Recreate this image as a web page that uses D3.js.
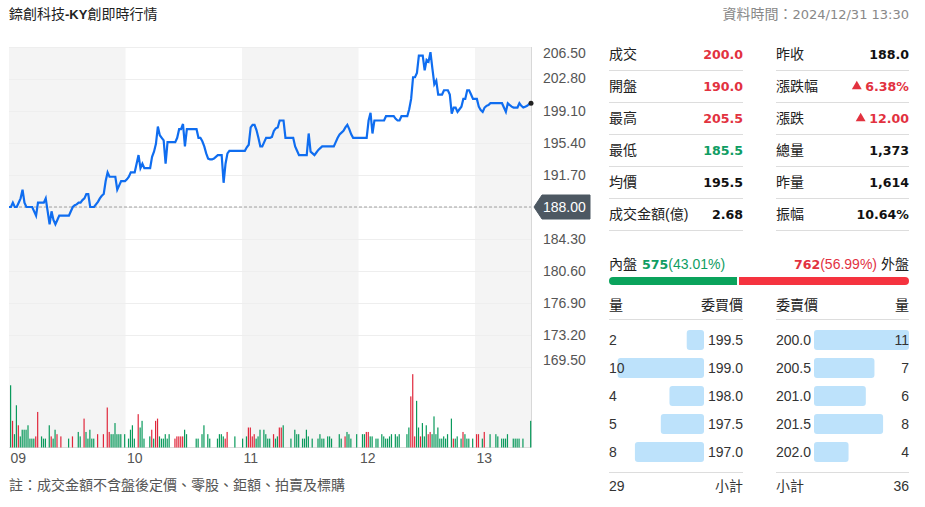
<!DOCTYPE html>
<html>
<head>
<meta charset="utf-8">
<script src="https://cdnjs.cloudflare.com/ajax/libs/d3/7.8.5/d3.min.js"></script>
<style>
html, body { margin: 0; padding: 0; background: #fff; }
svg text { font-family: "Liberation Sans", "Noto Sans CJK TC", sans-serif; }
svg text .heavy, svg text.heavy { font-family: "DejaVu Sans", sans-serif; font-weight: 700; font-size: 12.6px; }
</style>
</head>
<body>
<svg id="chart" width="925" height="507"></svg>
<script>
// one price per minute from 09:00 to 13:30
var prices = [
  188,188,188.5,188,188,188.5,189,190,188.5,188,
  188,188,188,187.5,187,188.5,188.5,188.5,188.5,189,
  187.5,186,187.5,186.5,186,186.5,187,187,187,187,
  187,187,187.5,188,188.2,188.3,188.5,188.5,188.8,189,
  189.5,189.5,188,188,188,188.3,188.6,189,189.3,189.5,
  191,192,191.5,191.5,191.5,191.5,190,190.5,191,191,
  191,191.2,191.5,192,192,192,193,194,192.5,193,
  192.5,192.5,192.5,192.5,193.8,194.4,195.3,197.3,196.3,196,
  195.7,193,195.5,195.5,195.5,195.5,195.5,196,197,197,
  197.6,195,197,197,197,197,197,197,196,196,
  195.6,195,194.2,193.6,193.5,193.5,193.6,193.8,194,194,
  194,190.8,193,194.2,194.5,194.5,194.5,194.5,194.5,194.5,
  194.5,194.5,194.5,194.9,195.2,197.2,197.5,197.5,196.9,196,
  195,195,195.5,196,196,196,196.1,196.8,197.1,197.2,
  198,198,198,196,196,196,196,196,195,194.5,
  194,194,194,194,194,196.5,194.4,194.2,194,194.3,
  194.6,194.8,195,195,195,195,195,195,195,195.5,
  196,196.4,196.6,196.8,197.2,197.5,197,196.4,196,196,
  196,196,196,196,196,196,198,198.9,196.5,198,
  198,198,198,198,198,198.5,198.5,198.5,198.5,198.5,
  198.2,198,198,198.5,198.5,198.5,198.5,199.3,200.5,203,
  203,203.5,205.5,205.5,205.5,203.8,205,204.8,205.9,204,
  202.2,202.6,201,201,201,201.5,201.5,201.5,201,198.8,
  199.5,199.5,199,199.3,199.6,200.5,200.5,201.5,201.5,201,
  200.5,200.5,200.5,199.6,199.2,199,199.5,199.7,199.8,200,
  200,200,200,200,200,200,199.5,199,200,199.8,
  199.6,199.5,199.5,199.5,200,199.7,199.5,199.6,199.7,199.9,200
];

// lots per minute, first entry is minute 1
var volumes = [
  28,12,6,19,10,5,8,8,8,10,
  4,4,4,5,16,0,5,4,4,0,
  10,5,4,8,6,0,5,0,0,0,
  4,0,5,0,0,7,5,0,13,7,
  4,8,4,4,0,6,0,0,6,0,
  18,7,6,6,11,6,6,6,0,6,
  0,4,8,10,4,0,15,9,12,4,
  0,0,5,8,4,12,13,5,4,4,
  6,4,6,0,0,4,5,5,5,5,
  8,6,0,0,0,0,4,4,0,6,
  10,0,6,4,0,0,0,4,6,6,
  5,4,7,0,0,0,5,0,0,0,
  4,0,5,9,9,5,6,4,5,8,
  0,8,6,4,4,0,6,4,5,9,
  9,10,0,0,0,4,0,8,6,6,
  0,4,4,8,5,0,4,0,0,4,
  6,4,4,0,5,5,4,0,0,0,
  6,4,0,5,7,6,4,0,0,6,
  0,0,6,6,7,7,5,5,0,4,
  4,0,6,5,4,4,5,6,0,6,
  5,6,0,0,0,6,9,23,33,5,
  21,9,5,11,5,10,6,7,6,14,
  6,9,4,4,5,4,6,0,13,4,
  4,5,0,4,7,6,4,4,0,4,
  0,6,6,0,4,7,0,0,6,0,
  0,6,5,0,4,4,4,6,0,0,
  4,4,4,4,0,4,0,0,0,12
];
var redMinutes = [2,5,14,15,22,25,27,33,39,46,49,51,52,67,74,76,77,86,87,88,89,90,
  112,113,124,125,126,127,137,140,141,174,185,186,208,209,210,213,217,218,230,235,242,243,246];

var prevClose = 188;
var priceTicks = [206.5,202.8,199.1,195.4,191.7,188,184.3,180.6,176.9,173.2,169.5];
var hourTicks = [0,60,120,180,240];
var hourLabels = ["09","10","11","12","13"];

var statLabelsL = ["成交","開盤","最高","最低","均價","成交金額(億)"];
var statValuesL = ["200.0","190.0","205.5","185.5","195.5","2.68"];
var statColorsL = ["r","r","r","g","k","k"];
var statLabelsR = ["昨收","漲跌幅","漲跌","總量","昨量","振幅"];
var statValuesR = ["188.0","6.38%","12.00","1,373","1,614","10.64%"];
var statColorsR = ["k","r","r","k","k","k"];
var statArrowsR = [false,true,true,false,false,false];

var bidQty = [2,10,4,5,8];
var bidPrice = ["199.5","199.0","198.0","197.5","197.0"];
var askQty = [11,7,6,8,4];
var askPrice = ["200.0","200.5","201.0","201.5","202.0"];
var innerShare = [575,762];

var RED = "#e2323f", GREEN = "#0f9d63", DARK = "#222";
var colorOf = {r: RED, g: GREEN, k: "#111"};

var svg = d3.select("#chart");

var L = 9, R = 531, T = 47, PB = 367, VB = 447.5;
var xScale = d3.scaleLinear().domain([0,270]).range([L,R]);
var hourScale = d3.scaleLinear().domain([0,240]).range([L,475]);
var yScale = d3.scaleLinear().domain([169.5,206.5]).range([PB,T]);
var vScale = d3.scaleLinear().domain([0,36]).range([VB,VB-80]);

function label(x, y, str, o) {
  o = o || {};
  return svg.append("text").attr("x",x).attr("y",y).attr("dy","0.36em")
    .attr("text-anchor",o.anchor || "start")
    .attr("font-size",o.size || 14)
    .attr("fill",o.color || DARK)
    .classed("heavy",!!o.bold)
    .text(str);
}

// alternating hour bands
svg.append("g").selectAll("rect").data([0,120,240]).enter().append("rect")
  .attr("x",function(d){ return hourScale(d); })
  .attr("y",T)
  .attr("width",function(d){ return Math.min(hourScale(d+60),R) - hourScale(d); })
  .attr("height",VB-T)
  .attr("fill","#f4f4f4");

// grid
svg.append("g").selectAll("line").data(priceTicks).enter().append("line")
  .attr("x1",L).attr("x2",R)
  .attr("y1",function(d){ return Math.round(yScale(d))+0.5; })
  .attr("y2",function(d){ return Math.round(yScale(d))+0.5; })
  .attr("stroke","#eeeeee");
svg.append("line").attr("x1",R+0.5).attr("x2",R+0.5).attr("y1",T).attr("y2",VB).attr("stroke","#d8d8d8");
svg.append("line").attr("x1",L).attr("x2",R).attr("y1",VB).attr("y2",VB).attr("stroke","#dcdcdc");

// volume
svg.append("g").selectAll("rect").data(volumes).enter().append("rect")
  .attr("x",function(d,i){ return xScale(i+1)-0.93; })
  .attr("y",function(d){ return vScale(d); })
  .attr("width",1.2)
  .attr("height",function(d){ return VB - vScale(d); })
  .attr("fill",function(d,i){ return redMinutes.indexOf(i+1) >= 0 ? "#e0283c" : "#0a9a5c"; });

// previous close
svg.append("line").attr("x1",L).attr("x2",R)
  .attr("y1",yScale(prevClose)).attr("y2",yScale(prevClose))
  .attr("stroke","#a0a0a0").attr("stroke-dasharray","3,2");

var lineGen = d3.line()
  .x(function(d,i){ return xScale(i); })
  .y(function(d){ return yScale(d); });
svg.append("path").attr("d",lineGen(prices))
  .attr("fill","none").attr("stroke","#0f6df0").attr("stroke-width",2.2).attr("stroke-linejoin","miter");
svg.append("circle").attr("cx",xScale(270)).attr("cy",yScale(prices[270])).attr("r",2.5).attr("fill","#222");

// price axis
var yAxis = d3.axisRight(yScale).tickValues(priceTicks).tickSize(0).tickPadding(0)
  .tickFormat(d3.format(".2f"));
var yg = svg.append("g").attr("transform","translate(543,0)").call(yAxis);
yg.select(".domain").remove();
yg.selectAll("text").attr("font-size",14).attr("fill","#555")
  .attr("dy",function(d){ return d === 206.5 ? "0.78em" : d === 202.8 ? "0.28em" : d === 169.5 ? "-0.15em" : "0.32em"; });

// callout for previous close
var cy = yScale(prevClose);
svg.append("path")
  .attr("d","M534,"+cy+"L542,"+(cy-12)+"L590,"+(cy-12)+"L590,"+(cy+12)+"L542,"+(cy+12)+"Z")
  .attr("fill","#4d5862").attr("stroke","#4d5862").attr("stroke-linejoin","round");
yg.raise();
yg.selectAll(".tick").filter(function(d){ return d === prevClose; }).select("text").attr("fill","#fff");

// hour axis
var xAxis = d3.axisBottom(hourScale).tickValues(hourTicks).tickSize(0).tickPadding(0)
  .tickFormat(function(d,i){ return hourLabels[i]; });
var xg = svg.append("g").attr("transform","translate(0,453)").call(xAxis);
xg.select(".domain").remove();
xg.selectAll("text").attr("font-size",14).attr("fill","#555").attr("text-anchor","start").attr("dx",1);

// heading
var title = label(9,14,"錼創科技");
title.append("tspan").attr("font-weight",700).attr("font-size",13).text("-KY");
title.append("tspan").text("創即時行情");
var stamp = label(909,14,"資料時間：",{anchor:"end",color:"#888"});
stamp.append("tspan").style("font-family","'DejaVu Sans'")
  .attr("font-size",13).text("2024/12/31 13:30");
label(9,485,"註：成交金額不含盤後定價、零股、鉅額、拍賣及標購",{color:"#555"});

// quote table
var rowY = d3.scalePoint().domain(d3.range(6)).range([54,214]);
function statColumn(x0, x1, labels, values, colors, arrows) {
  labels.forEach(function(t,i){
    label(x0,rowY(i),t);
    var v = label(x1,rowY(i),values[i],{anchor:"end",bold:true,color:colorOf[colors[i]]});
    if (arrows && arrows[i]) {
      var w = v.node().getComputedTextLength();
      svg.append("path").attr("d",d3.symbol(d3.symbolTriangle,42)())
        .attr("transform","translate("+(x1-w-8.5)+","+(rowY(i)+0.5)+")")
        .attr("fill",RED);
    }
    svg.append("line").attr("x1",x0).attr("x2",x1)
      .attr("y1",rowY(i)+16.5).attr("y2",rowY(i)+16.5).attr("stroke","#ddd");
  });
}
statColumn(609,743,statLabelsL,statValuesL,statColorsL);
statColumn(776,909,statLabelsR,statValuesR,statColorsR,statArrowsR);

// inner / outer
var total = d3.sum(innerShare);
var shareX = d3.scaleLinear().domain([0,total]).range([609,909]);
label(609,264,"內盤");
var inner = label(642,264,"",{color:GREEN});
inner.append("tspan").attr("class","heavy").text(innerShare[0]);
inner.append("tspan").text("(43.01%)");
label(909,264,"外盤",{anchor:"end"});
var outer = label(877,264,"",{anchor:"end",color:RED});
outer.append("tspan").attr("class","heavy").text(innerShare[1]);
outer.append("tspan").text("(56.99%)");
var split = shareX(innerShare[0]);
svg.append("rect").attr("x",shareX(0)).attr("y",277).attr("width",split-shareX(0)-1)
  .attr("height",8).attr("rx",4).attr("fill","#0aa35c");
svg.append("rect").attr("x",split-9).attr("y",277).attr("width",8).attr("height",8).attr("fill","#0aa35c");
svg.append("rect").attr("x",split+1).attr("y",277).attr("width",shareX(total)-split-1)
  .attr("height",8).attr("rx",4).attr("fill","#f5333f");
svg.append("rect").attr("x",split+1).attr("y",277).attr("width",8).attr("height",8).attr("fill","#f5333f");

// order book
var qtyW = d3.scaleLinear().domain([0,11]).range([0,95]);
var bookY = d3.scalePoint().domain(d3.range(5)).range([340,452]);

label(609,305,"量");
label(743,305,"委買價",{anchor:"end"});
label(776,305,"委賣價");
label(909,305,"量",{anchor:"end"});
[[609,743],[776,909]].forEach(function(c){
  svg.append("line").attr("x1",c[0]).attr("x2",c[1]).attr("y1",319.5).attr("y2",319.5).attr("stroke","#ddd");
  svg.append("line").attr("x1",c[0]).attr("x2",c[1]).attr("y1",472.5).attr("y2",472.5).attr("stroke","#ddd");
});

svg.append("g").selectAll("rect").data(bidQty).enter().append("rect")
  .attr("x",function(d){ return 704 - qtyW(d); })
  .attr("y",function(d,i){ return bookY(i)-10; })
  .attr("width",function(d){ return qtyW(d); })
  .attr("height",20).attr("rx",3).attr("fill","#bde2fb");
svg.append("g").selectAll("rect").data(askQty).enter().append("rect")
  .attr("x",814)
  .attr("y",function(d,i){ return bookY(i)-10; })
  .attr("width",function(d){ return qtyW(d); })
  .attr("height",20).attr("rx",3).attr("fill","#bde2fb");

bidQty.forEach(function(q,i){
  label(609,bookY(i),q,{color:"#333"});
  label(743,bookY(i),bidPrice[i],{anchor:"end",color:"#333"});
  label(776,bookY(i),askPrice[i],{color:"#333"});
  label(909,bookY(i),askQty[i],{anchor:"end",color:"#333"});
});

label(609,486,d3.sum(bidQty),{color:"#333"});
label(743,486,"小計",{anchor:"end",color:"#333"});
label(776,486,"小計",{color:"#333"});
label(909,486,d3.sum(askQty),{anchor:"end",color:"#333"});
</script>
</body>
</html>
